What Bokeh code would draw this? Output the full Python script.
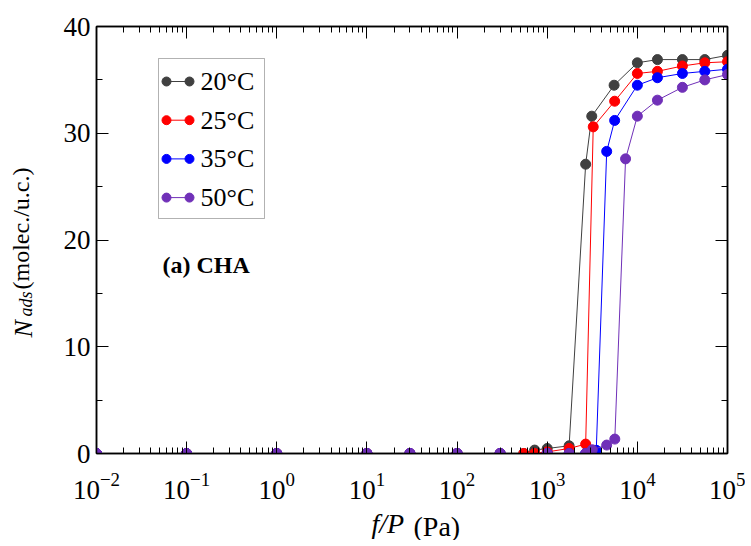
import numpy as np
from bokeh.plotting import figure
from bokeh.models import (Range1d, LinearScale, LogAxis, LinearAxis, FixedTicker,
                          SingleIntervalTicker, Label, BoxAnnotation, CustomJSTickFormatter,
                          Title)
from bokeh.embed import file_html
from bokeh.resources import INLINE

FONT = "Liberation Serif, DejaVu Serif, serif"

# ---------------- data ----------------
x20 = [0.01, 0.1, 1, 10, 30, 100, 300, 550, 725, 1000, 1750, 2670, 3120, 5520, 10000, 16700, 31600, 56000, 100000]
y20 = [0, 0, 0, 0, 0, 0, 0, 0, 0.32, 0.47, 0.72, 27.1, 31.6, 34.5, 36.6, 36.9, 36.9, 36.9, 37.3]

x25 = [0.01, 0.1, 1, 10, 30, 100, 300, 550, 725, 1000, 1750, 2670, 3240, 5600, 10000, 16700, 31600, 56000, 100000]
y25 = [0, 0, 0, 0, 0, 0, 0, 0, 0, 0.15, 0.47, 0.88, 30.6, 33.0, 35.6, 35.8, 36.3, 36.6, 36.7]

x35 = [0.01, 0.1, 1, 10, 30, 100, 300, 1000, 1750, 2670, 3500, 4570, 5600, 10000, 16700, 31600, 56000, 100000]
y35 = [0, 0, 0, 0, 0, 0, 0, 0, 0, 0, 0.3, 28.3, 31.2, 34.5, 35.2, 35.6, 35.8, 36.0]

x50 = [0.01, 0.1, 1, 10, 30, 100, 300, 1000, 1750, 2670, 3160, 4570, 5620, 7400, 10000, 16700, 31600, 56000, 100000]
y50 = [0, 0, 0, 0, 0, 0, 0, 0, 0, 0, 0.35, 0.79, 1.35, 27.6, 31.6, 33.1, 34.3, 35.0, 35.5]

labels = ["20\u00b0C", "25\u00b0C", "35\u00b0C", "50\u00b0C"]
colors = ["#404040", "#ff0000", "#0000ff", "#7030b8"]
xs = [x20, x25, x35, x50]
ys = [y20, y25, y35, y50]

x_major = [10.0 ** k for k in range(-2, 6)]
x_minor = [m * 10.0 ** k for k in range(-2, 5) for m in range(2, 10)]

# ---------------- layout ----------------
W, H = 745, 540
ML, MT = 96, 26
FRAME_R, FRAME_B = 727, 453
MR, MB = W - FRAME_R, H - FRAME_B
FW, FH = FRAME_R - ML, FRAME_B - MT

p = figure(width=W, height=H, x_axis_type="log",
           x_range=Range1d(1e-2, 1e5), y_range=Range1d(0, 40),
           output_backend="svg", toolbar_location=None,
           min_border_left=ML, min_border_right=MR,
           min_border_top=MT, min_border_bottom=MB)
p.xgrid.visible = False
p.ygrid.visible = False
p.outline_line_color = "black"
p.outline_line_width = 1.5
p.background_fill_color = "white"
p.border_fill_color = "white"

p.extra_x_ranges = {"px": Range1d(0, FW)}
p.extra_y_ranges = {"px": Range1d(0, FH)}
p.extra_x_scales = {"px": LinearScale()}
p.extra_y_scales = {"px": LinearScale()}

xt = FixedTicker(ticks=x_major, minor_ticks=x_minor)
yt = SingleIntervalTicker(interval=10, num_minor_ticks=2)


def style(ax, show_labels=True):
    ax.major_tick_in = 12
    ax.major_tick_out = 0
    ax.minor_tick_in = 6
    ax.minor_tick_out = 0
    ax.axis_line_width = 1.5
    ax.axis_line_color = "black"
    ax.major_tick_line_color = "black"
    ax.minor_tick_line_color = "black"
    ax.major_label_text_font = FONT
    ax.major_label_text_color = "black"
    ax.major_label_text_font_size = "27px"
    if not show_labels:
        ax.formatter = CustomJSTickFormatter(code="return ''")
        ax.major_label_standoff = 0
        ax.major_label_text_font_size = "2px"


p.xaxis.ticker = xt
p.yaxis.ticker = yt
style(p.xaxis[0])
style(p.yaxis[0])
p.xaxis[0].major_label_standoff = 19
p.yaxis[0].major_label_standoff = 6

top = LogAxis(ticker=xt)
style(top, False)
p.add_layout(top, "above")
right = LinearAxis(ticker=yt)
style(right, False)
p.add_layout(right, "right")

# ---------------- data series ----------------
for x, y, c in zip(xs, ys, colors):
    p.line(x, y, line_color=c, line_width=1)
    p.scatter(x, y, size=10, fill_color=c, line_color=c)

# ---------------- legend (drawn in frame pixel units) ----------------
LEG_L, LEG_R, LEG_T, LEG_B = 62, 168, 395, 235
LEG_Y0, LEG_DY = 372, 38.7
SW_X0, SW_X1 = 70, 93
p.add_layout(BoxAnnotation(left=LEG_L, right=LEG_R, top=LEG_T, bottom=LEG_B,
                           left_units="screen", right_units="screen",
                           top_units="screen", bottom_units="screen",
                           fill_alpha=0, line_color="black", line_width=1))
for i, (lab, c) in enumerate(zip(labels, colors)):
    yy = LEG_Y0 - i * LEG_DY
    p.line([SW_X0, SW_X1], [yy, yy], line_color=c, line_width=1,
           x_range_name="px", y_range_name="px")
    p.scatter([SW_X0, SW_X1], [yy, yy], size=9, fill_color=c, line_color=c,
              x_range_name="px", y_range_name="px")
    p.add_layout(Label(x=104, y=yy, x_units="screen", y_units="screen", text=lab,
                       text_font=FONT, text_font_size="26px", text_color="black",
                       text_align="left", text_baseline="middle"))

p.add_layout(Label(x=66, y=189, x_units="screen", y_units="screen", text="(a) CHA",
                   text_font=FONT, text_font_size="24px", text_font_style="bold",
                   text_align="left", text_baseline="alphabetic", text_color="black"))


# ---------------- axis titles (side-panel titles) ----------------
def side_title(side, text, size, style_, offset, valign, standoff):
    p.add_layout(Title(text=text, align="left", offset=offset, vertical_align=valign,
                       standoff=standoff, text_font=FONT, text_font_size=f"{size}px",
                       text_font_style=style_, text_color="black"), side)


# below: spacer, then the two parts of the x title on one line
side_title("below", " ", 1, "normal", 0, "middle", 17)
side_title("below", "f/P", 28, "italic", 275, "middle", -30)
side_title("below", "(Pa)", 28, "normal", 317, "middle", -30)

# left: spacer, then the parts of the y title on one line
side_title("left", " ", 1, "normal", 0, "middle", 32)
side_title("left", "ads", 18, "italic", 137, "bottom", -21)
side_title("left", "N", 26, "italic", 116, "middle", -28)
side_title("left", "(molec./u.c.)", 24, "normal", 164, "middle", -27)

open("out.html", "w").write(file_html(p, INLINE))
